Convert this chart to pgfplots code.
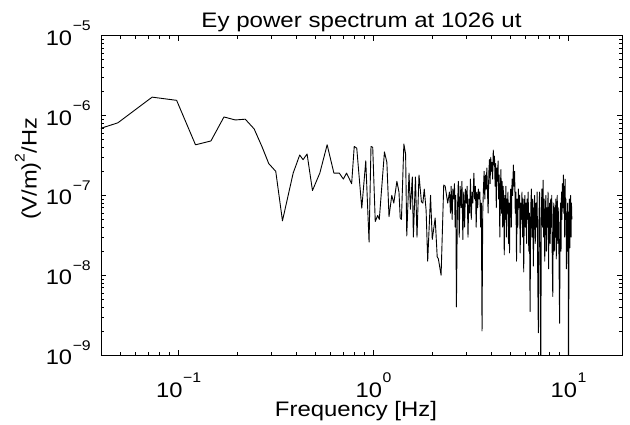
\documentclass[border=0pt]{standalone}
\usepackage{fontspec}
\setmainfont{Liberation Sans}
\usepackage{graphicx}
\usepackage{pgfplots}
\pgfplotsset{compat=1.18}
\newcommand\sx[1]{\scalebox{1.13}[1]{#1}}
\newcommand\sexp[1]{\raisebox{14.5pt}{\fontsize{14}{15}\selectfont #1}}
\newcommand\logl[1]{\pgfmathparse{round(#1)}\pgfmathtruncatemacro\ex{\pgfmathresult}\sx{10\kern0.5pt\sexp{\ifnum\ex<0 −\number\numexpr-\ex\relax\else\ex\fi}}}
\pgfplotstableread{
f y
0.0244 4.7e-7
0.0488 8.1e-7
0.0732 1.7e-6
0.0977 1.55e-6
0.1221 4.3e-7
0.1465 4.8e-7
0.1709 9.6e-7
0.1953 8.8e-7
0.2197 9.0e-7
0.2441 6.8e-7
0.2686 4.0e-7
0.2900 2.5e-7
0.3150 2.0e-7
0.3410 4.8e-8
0.3870 1.9e-7
0.4180 3.2e-7
0.4350 2.8e-7
0.4560 3.3e-7
0.4860 1.15e-7
0.5300 1.9e-7
0.5780 4.3e-7
0.6260 1.9e-7
0.6670 1.9e-7
0.7000 1.6e-7
0.7270 1.9e-7
0.7720 1.4e-7
0.7960 4.1e-7
0.8200 3.9e-7
0.8700 6.9e-8
0.9120 2.7e-7
0.9480 2.6e-8
0.9700 4.1e-7
0.9900 4.0e-7
1.0200 4.7e-8
1.0500 5.6e-8
1.0700 5.0e-8
1.1370 3.5e-7
1.1700 2.6e-7
1.2000 5.4e-8
1.2400 1.0e-7
1.2700 8.0e-8
1.3170 1.5e-7
1.3500 1.1e-7
1.3700 5.2e-8
1.3900 5.0e-8
1.4300 4.4e-7
1.4600 3.3e-7
1.4800 3.1e-8
1.5200 1.9e-7
1.5450 6.7e-8
1.5800 1.7e-7
1.6000 3.0e-8
1.6400 1.7e-7
1.6700 3.0e-8
1.7100 1.8e-7
1.7600 8.3e-8
1.7900 8.0e-8
1.8200 1.2e-7
1.8600 6.5e-8
1.8950 1.5e-8
1.9600 1.0e-7
2.0000 2.8e-8
2.0700 5.2e-8
2.1200 1.7e-8
2.1500 1.6e-8
2.2200 1.0e-8
2.2900 1.35e-7
2.3300 1.3e-7
2.4000 8.0e-8
2.45 1.1e-7
2.48 6e-8
2.50 1.3e-7
2.53 5e-8
2.55 1.2e-7
2.58 9e-8
2.60 1.4e-7
2.62 4e-8
2.64 1.0e-7
2.66 4e-9
2.69 6e-8
2.72 1.5e-7
2.75 3e-8
2.78 1.3e-7
2.81 7e-8
2.84 1.5e-7
2.87 2.8e-8
2.90 1.1e-7
2.93 4e-8
2.96 1.2e-7
2.99 8e-8
3.02 1.3e-7
3.05 3e-8
3.08 9e-8
3.11 6e-8
3.14 1.6e-7
3.17 5e-8
3.20 1.1e-7
3.23 8e-8
3.27 1.9e-7
3.30 9e-8
3.33 1.3e-7
3.36 4e-8
3.39 1.1e-7
3.42 7e-8
3.45 1.2e-7
3.48 9e-8
3.51 1.1e-7
3.54 4e-8
3.57 8e-8
3.60 2e-9
3.63 6e-8
3.66 1.2e-7
3.69 2e-7
3.72 9e-8
3.75 1.8e-7
3.78 1.2e-7
3.81 2.2e-7
3.84 1.1e-7
3.87 6e-8
3.90 1.9e-7
3.93 2.8e-7
3.96 1.4e-7
3.99 3.0e-7
4.02 2.0e-7
4.05 2.6e-7
4.08 1.6e-7
4.11 3.7e-7
4.14 2.4e-7
4.17 3.1e-7
4.20 1.3e-7
4.23 2.5e-7
4.26 7e-8
4.29 2.2e-7
4.32 1.5e-7
4.35 2.7e-7
4.38 9e-8
4.41 1.8e-7
4.44 3e-8
4.47 1.2e-7
4.50 2.1e-7
4.53 6e-8
4.56 1.5e-7
4.59 4e-8
4.62 1.3e-7
4.65 8e-8
4.68 1.8e-8
4.71 1.0e-7
4.74 5e-8
4.77 1.3e-7
4.80 3e-8
4.83 9e-8
4.86 6e-8
4.89 1.1e-7
4.92 2.5e-8
4.95 8e-8
4.98 1.9e-8
5.01 7e-8
5.05 1.2e-7
5.09 4e-8
5.13 1.6e-7
5.17 1.0e-7
5.21 2.4e-7
5.25 1.3e-7
5.29 2.0e-7
5.33 6e-8
5.37 1.1e-7
5.41 1.5e-8
5.45 9e-8
5.49 4e-8
5.53 1.2e-7
5.57 7e-8
5.61 1.0e-7
5.65 1.9e-8
5.69 8e-8
5.73 5e-8
5.77 1.1e-7
5.81 3e-8
5.85 9e-8
5.89 1.1e-8
5.93 7e-8
5.97 1.0e-7
6.01 4e-8
6.05 8e-8
6.09 2.5e-8
6.13 9e-8
6.17 5e-8
6.21 1.1e-7
6.25 2e-8
6.30 6e-8
6.35 3.5e-9
6.40 7e-8
6.45 1.2e-7
6.50 3e-8
6.55 9e-8
6.60 1.3e-8
6.65 6e-8
6.70 1.0e-7
6.75 2.5e-8
6.80 8e-8
6.85 4e-8
6.90 1.1e-7
6.95 9e-9
7.00 1.9e-9
7.05 5e-8
7.10 1.1e-7
7.15 2e-8
7.20 3e-10
7.25 6e-8
7.30 1.2e-7
7.35 4e-8
7.40 1.55e-7
7.45 3e-8
7.50 9e-8
7.55 1.5e-8
7.60 6e-8
7.65 1.0e-7
7.70 2e-8
7.75 7e-8
7.80 4e-8
7.85 1.1e-7
7.90 1.2e-8
7.95 6e-8
8.00 8e-8
8.05 2.5e-8
8.10 9e-8
8.15 4e-8
8.20 1.0e-7
8.25 1.5e-8
8.30 5.4e-9
8.35 5e-8
8.40 8e-8
8.45 2e-8
8.50 7e-8
8.55 3e-8
8.60 9e-8
8.65 1.6e-8
8.70 6e-8
8.75 1.0e-7
8.80 2.5e-8
8.85 7e-8
8.90 4e-8
8.95 1.0e-8
9.00 2.5e-9
9.05 4e-8
9.10 8e-8
9.15 2e-8
9.20 1.1e-7
9.25 5e-8
9.30 1.4e-7
9.35 7e-8
9.40 1.8e-7
9.45 6e-8
9.50 1.3e-7
9.55 3e-8
9.60 1.6e-7
9.65 5e-8
9.70 9e-8
9.75 1.2e-8
9.80 6e-8
9.85 2e-8
9.90 8e-8
9.95 3e-8
10.00 3e-10
10.05 4e-8
10.10 9e-8
10.15 2.2e-8
10.20 7e-8
10.25 1.0e-7
10.30 3e-8
10.35 8e-8
10.40 5e-8
}\spectrum
\begin{document}
\begin{tikzpicture}
\begin{axis}[
  scale only axis,
  width=521pt, height=319.3pt,
  xmode=log, ymode=log,
  log basis x=10, log basis y=10,
  xmin=0.04, xmax=18.8,
  ymin=1e-9, ymax=1e-5,
  axis line style={line width=0.8pt},
  tick style={black, line width=0.6pt},
  major tick length=5pt, minor tick length=3pt,
  tick align=inside,
  font=\fontsize{21}{25}\selectfont,
  xticklabel={\logl{\tick}},
  yticklabel={\logl{\tick}},
  xticklabel style={anchor=base, inner sep=0pt, yshift=-42.3pt},
  yticklabel style={anchor=base east, inner sep=0pt, xshift=-10pt, yshift=-9.5pt},
]
\addplot[black, line width=0.9pt, line join=round] table[x=f, y=y] {\spectrum};
\end{axis}
\node[anchor=base, inner sep=0pt, font=\fontsize{21}{25}\selectfont]
  at ([yshift=7.7pt]current axis.north) {\resizebox{320pt}{\height}{Ey power spectrum at 1026 ut}};
\node[anchor=base, inner sep=0pt, font=\fontsize{21}{25}\selectfont]
  at ([shift={(-5.5pt,-61.7pt)}]current axis.south) {\resizebox{162pt}{\height}{Frequency [Hz]}};
\node[rotate=90, anchor=base, inner sep=0pt, font=\fontsize{21}{25}\selectfont]
  at ([shift={(-64.3pt,186pt)}]current axis.south west) {\resizebox{102pt}{\height}{(V/m)\raisebox{12pt}{\fontsize{14}{15}\selectfont 2}/Hz}};
\pgfresetboundingbox
\path ([shift={(-101pt,-70pt)}]current axis.south west) rectangle ([shift={(8pt,35.7pt)}]current axis.north east);
\end{tikzpicture}
\end{document}
